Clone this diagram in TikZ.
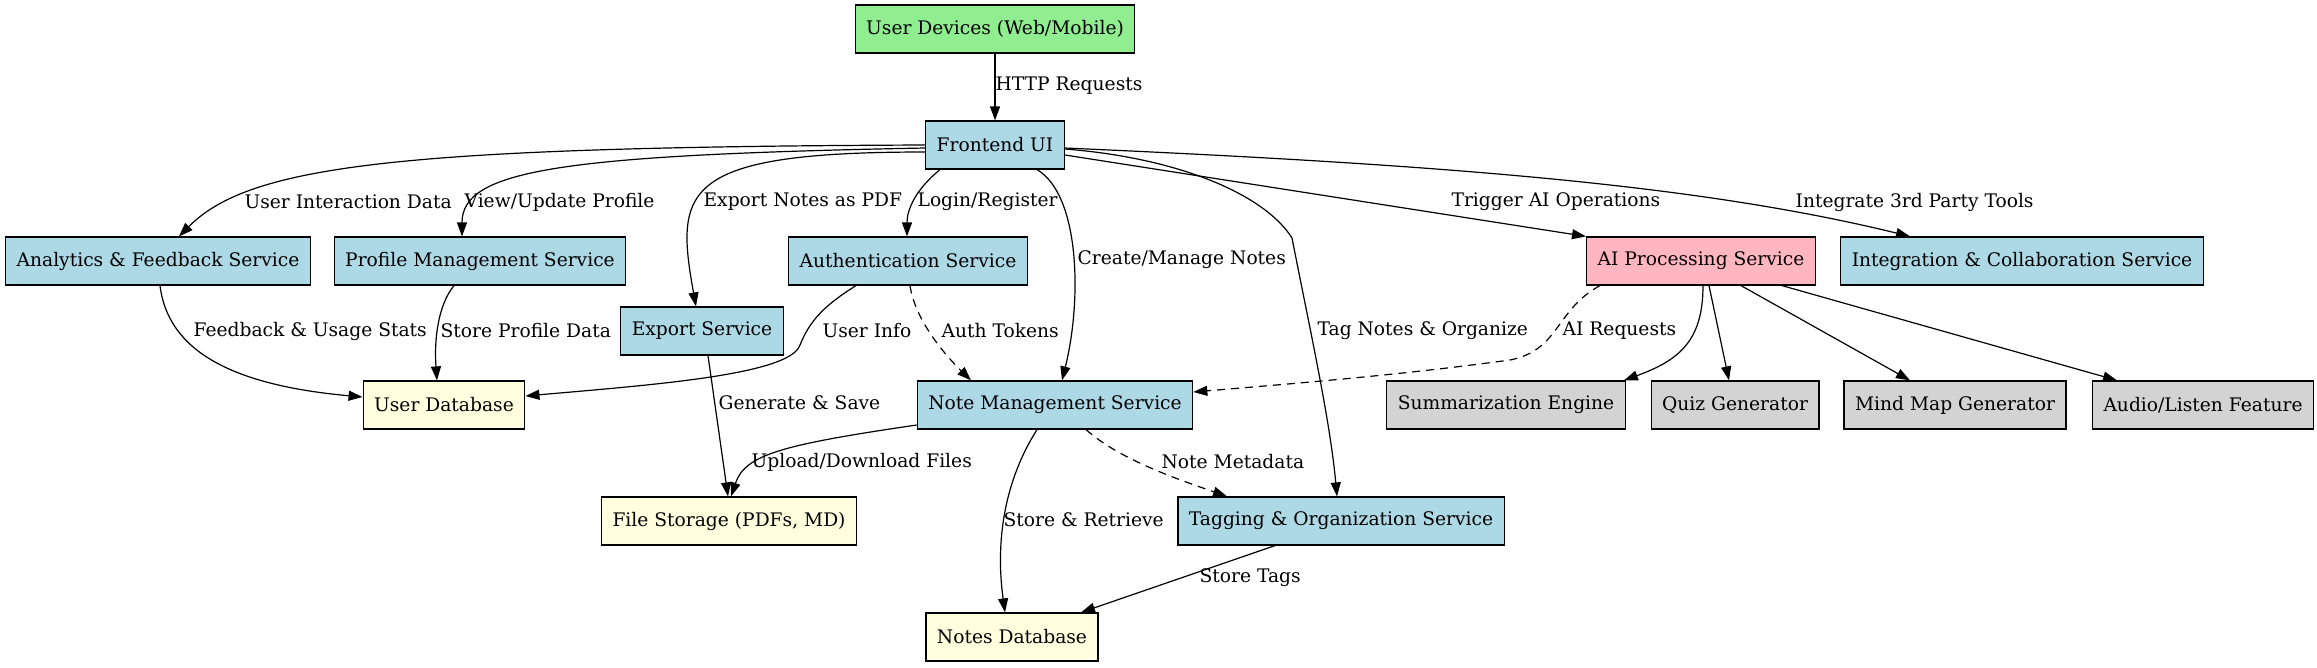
\documentclass[tikz,border=0pt]{standalone}
\usepackage{fontspec}
\setmainfont{DejaVu Serif}
\usetikzlibrary{arrows.meta}
\definecolor{devgreen}{HTML}{90EE90}
\definecolor{svcblue}{HTML}{ADD8E6}
\definecolor{aipink}{HTML}{FFB6C1}
\definecolor{dbyellow}{HTML}{FFFFE0}
\definecolor{featgray}{HTML}{D3D3D3}
\begin{document}
\begin{tikzpicture}[x=1pt,y=-1pt,
  every node/.style={font=\fontsize{18.67pt}{22pt}\selectfont},
  box/.style={draw=black, line width=1.2pt, minimum height=48pt, inner xsep=11pt, inner ysep=0pt},
  edge/.style={-{Triangle[length=14pt,width=10pt]}, line width=1.2pt},
  dashedge/.style={edge, dash pattern=on 8pt off 6pt},
  lbl/.style={anchor=west, inner sep=0pt}]
\useasboundingbox[fill=white] (0,0) rectangle (2317,667);
% Drawing nodes
% Rank 0: devices and frontend
\node[box, fill=devgreen] (dev) at (995,29) {User Devices (Web/Mobile)};
\node[box, fill=svcblue] (front) at (995,145) {Frontend UI};
% Rank 1: services
\node[box, fill=svcblue] (ana) at (158,261) {Analytics \& Feedback Service};
\node[box, fill=svcblue] (prof) at (480,261) {Profile Management Service};
\node[box, fill=svcblue] (auth) at (908,261) {Authentication Service};
\node[box, fill=aipink] (ai) at (1701,261) {AI Processing Service};
\node[box, fill=svcblue] (integ) at (2022,261) {Integration \& Collaboration Service};
\node[box, fill=svcblue] (export) at (702,331) {Export Service};
% Rank 2: user data, notes and AI features
\node[box, fill=dbyellow] (userdb) at (444,405) {User Database};
\node[box, fill=svcblue] (note) at (1055,405) {Note Management Service};
\node[box, fill=featgray] (summ) at (1506,405) {Summarization Engine};
\node[box, fill=featgray] (quiz) at (1735,405) {Quiz Generator};
\node[box, fill=featgray] (mind) at (1955,405) {Mind Map Generator};
\node[box, fill=featgray] (audio) at (2203,405) {Audio/Listen Feature};
% Rank 3 and 4: storage
\node[box, fill=dbyellow] (files) at (729,521) {File Storage (PDFs, MD)};
\node[box, fill=svcblue] (tag) at (1341,521) {Tagging \& Organization Service};
\node[box, fill=dbyellow] (notesdb) at (1012,637) {Notes Database};
% Done with nodes; drawing edges
% Edge: dev -> front
\draw[edge] (dev.south) -- (front.north) node[lbl, at={(995,86)}] {HTTP Requests};
% Edge: front -> ana
\draw[edge] (front.west) .. controls (400,147) and (250,165) .. ([xshift=21pt]ana.north)
  node[lbl, at={(244,202)}] {User Interaction Data};
% Edge: front -> prof
\draw[edge] ([yshift=-3pt]front.west) .. controls (560,155) and (462,170) .. ([xshift=-18pt]prof.north)
  node[lbl, at={(464,202)}] {View/Update Profile};
% Edge: front -> export
\draw[edge] ([yshift=-7pt]front.west) .. controls (680,152) and (675,190) .. ([xshift=-6pt]export.north)
  node[lbl, at={(703,202)}] {Export Notes as PDF};
% Edge: front -> auth
\draw[edge] ([xshift=-55pt]front.south) .. controls (915,190) and (907,210) .. ([xshift=-1pt]auth.north)
  node[lbl, at={(917,202)}] {Login/Register};
% Edge: front -> note
\draw[edge] ([xshift=42pt]front.south) .. controls (1080,195) and (1082,300) .. ([xshift=7pt]note.north)
  node[lbl, at={(1077,260)}] {Create/Manage Notes};
% Edge: front -> tag
\draw[edge] ([yshift=-4pt]front.east) .. controls (1180,158) and (1265,195) .. (1292,238)
  .. controls (1310,330) and (1330,420) .. ([xshift=-4pt]tag.north)
  node[lbl, at={(1317,331)}] {Tag Notes \& Organize};
% Edge: front -> ai
\draw[edge] ([yshift=-10pt]front.east) -- (ai.north west)
  node[lbl, at={(1451,202)}] {Trigger AI Operations};
% Edge: front -> integ
\draw[edge] ([yshift=-3pt]front.east) .. controls (1450,165) and (1700,185) .. ([xshift=-112pt]integ.north)
  node[lbl, at={(1795,202)}] {Integrate 3rd Party Tools};
% Edge: ana -> userdb
\draw[edge] ([xshift=2pt]ana.south) .. controls (168,350) and (230,385) .. ([yshift=8pt]userdb.west)
  node[lbl, at={(193,331)}] {Feedback \& Usage Stats};
% Edge: prof -> userdb
\draw[edge] ([xshift=-26pt]prof.south) .. controls (438,305) and (434,340) .. ([xshift=-7pt]userdb.north)
  node[lbl, at={(440,331)}] {Store Profile Data};
% Edge: auth -> userdb
\draw[edge] ([xshift=-52pt]auth.south) .. controls (825,305) and (810,320) .. (800,345)
  .. controls (790,375) and (650,385) .. ([yshift=9pt]userdb.east)
  node[lbl, at={(822,331)}] {User Info};
% Edge: auth -> note
\draw[dashedge] ([xshift=2pt]auth.south) .. controls (915,320) and (945,355) .. ([xshift=-84pt]note.north)
  node[lbl, at={(941,331)}] {Auth Tokens};
% Edge: export -> files
\draw[edge] ([xshift=6pt]export.south) -- ([xshift=-1pt]files.north)
  node[lbl, at={(718,403)}] {Generate \& Save};
% Edge: note -> files
\draw[edge] ([yshift=-20pt]note.west) .. controls (780,445) and (745,455) .. ([xshift=2pt]files.north)
  node[lbl, at={(751,462)}] {Upload/Download Files};
% Edge: note -> notesdb
\draw[edge] ([xshift=-18pt]note.south) .. controls (1005,480) and (995,540) .. ([xshift=-7pt]notesdb.north)
  node[lbl, at={(1003,520)}] {Store \& Retrieve};
% Edge: note -> tag
\draw[dashedge] ([xshift=31pt]note.south) .. controls (1120,460) and (1180,480) .. ([xshift=-114pt]tag.north)
  node[lbl, at={(1161,462)}] {Note Metadata};
% Edge: tag -> notesdb
\draw[edge] ([xshift=-66pt]tag.south) -- ([xshift=69pt]notesdb.north)
  node[lbl, at={(1199,578)}] {Store Tags};
% Edge: ai -> note
\draw[dashedge] ([xshift=-101pt]ai.south) .. controls (1555,310) and (1560,350) .. (1510,360)
  .. controls (1400,375) and (1300,383) .. ([yshift=13pt]note.east)
  node[lbl, at={(1562,331)}] {AI Requests};
% Edges: ai -> features
\draw[edge] ([xshift=2pt]ai.south) .. controls (1703,340) and (1680,360) .. ([xshift=-2pt]summ.north east);
\draw[edge] ([xshift=8pt]ai.south) -- ([xshift=-6pt]quiz.north);
\draw[edge] ([xshift=40pt]ai.south) -- ([xshift=-45pt]mind.north);
\draw[edge] ([xshift=81pt]ai.south) -- ([xshift=-86pt]audio.north);
% Done with edges
\end{tikzpicture}
\end{document}
